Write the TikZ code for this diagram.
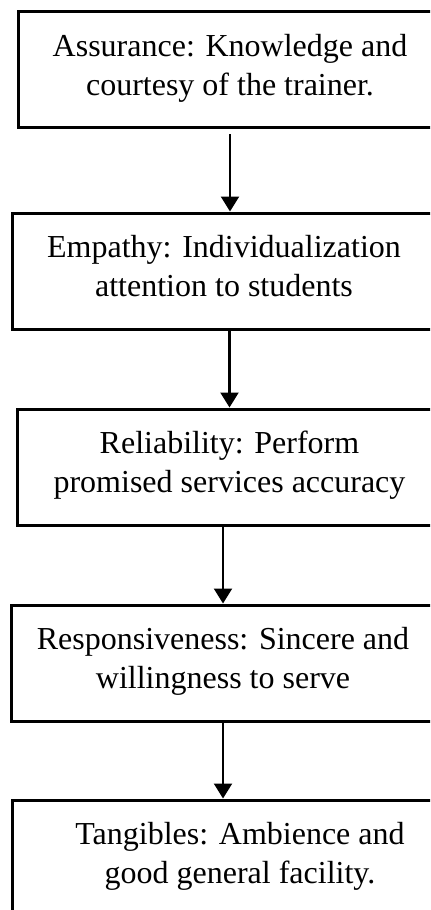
\documentclass[tikz,border=0pt]{standalone}
\usepackage{fontspec}
\setmainfont{Liberation Serif}
\usetikzlibrary{arrows.meta}

\begin{document}
\begin{tikzpicture}[x=0.5pt, y=-0.5pt,
            stage/.style={draw, line width=1.5pt, minimum height=58pt, align=center, inner sep=0pt,
                font=\fontsize{16}{19.5}\selectfont},
            flow/.style={line width=1.1pt, -{Triangle[width=9pt, length=7.5pt]}}]
            % Frame
            \clip (0,0) rectangle (430,910);

            % Stages
            \node [stage, minimum width=212pt] (assur) at (230,69.5) {Assurance: Knowledge and\\courtesy of the trainer.\rule[-5pt]{0pt}{0pt}};
            \node [stage, minimum width=212pt] (empat) at (224,271) {Empathy: Individualization\\attention to students\rule[-5pt]{0pt}{0pt}};
            \node [stage, minimum width=212pt] (relia) at (229.5,467) {Reliability: Perform\\promised services accuracy\rule[-5pt]{0pt}{0pt}};
            \node [stage, minimum width=212pt] (respo) at (223,663) {Responsiveness: Sincere and\\willingness to serve\rule[-5pt]{0pt}{0pt}};
            \node [stage, minimum width=228pt] (tangi) at (240,858) {Tangibles: Ambience and\\good general facility.\rule[-5pt]{0pt}{0pt}};

            % Arrows
            \draw [flow] ([yshift=-2.5pt]assur.south) -- (assur.south |- empat.north);
            \draw [flow] (empat.south -| relia.north) -- (relia.north);
            \draw [flow] (relia.south -| respo.north) -- (respo.north);
            \draw [flow] (respo.south) -- (respo.south |- tangi.north);
        \end{tikzpicture}
\end{document}
